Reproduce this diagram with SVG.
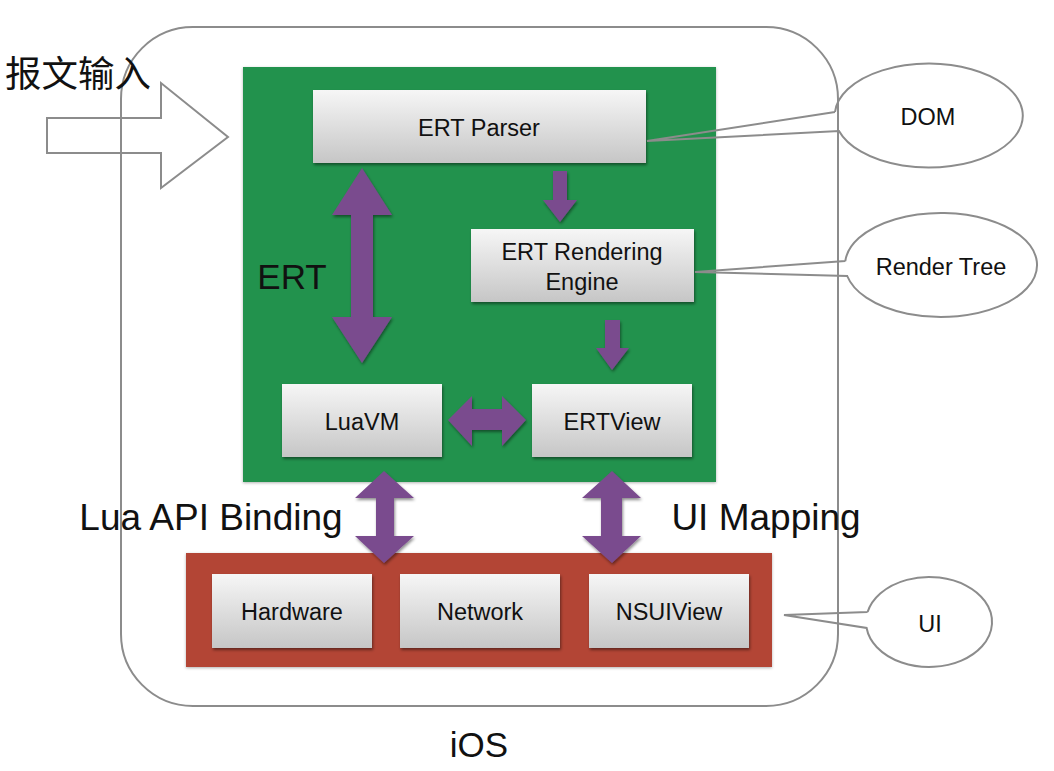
<svg xmlns="http://www.w3.org/2000/svg" width="1054" height="771" viewBox="0 0 1054 771">
<defs>
<linearGradient id="boxg" x1="0" y1="0" x2="0" y2="1">
<stop offset="0" stop-color="#f6f6f6"/>
<stop offset="1" stop-color="#c6c6c6"/>
</linearGradient>
<filter id="sh" x="-20%" y="-20%" width="140%" height="150%">
<feDropShadow dx="1" dy="2" stdDeviation="1.5" flood-color="#000" flood-opacity="0.45"/>
</filter>
<filter id="sh2" x="-10%" y="-10%" width="120%" height="120%">
<feDropShadow dx="0" dy="1" stdDeviation="1.5" flood-color="#000" flood-opacity="0.3"/>
</filter>
</defs>
<style>
.box{fill:url(#boxg);filter:url(#sh);}
.t{font-family:"Liberation Sans",Arial,sans-serif;fill:#111;text-anchor:middle;}
.bt{font-size:23.5px;}
.pa{fill:#7a4b8e;filter:url(#sh);}
.ln{fill:none;stroke:#8c8c8c;stroke-width:2;}
</style>
<rect width="1054" height="771" fill="#ffffff"/>
<g id="ios">
<rect class="ln" x="121" y="27" width="717" height="679" rx="72" ry="72"/>
<text class="t" x="479" y="757" font-size="35">iOS</text>
</g>
<g id="input">
<polygon class="ln" points="47,118 161,118 161,83 228,137 161,188 161,153 47,153"/>
<text x="5" y="87" font-family="'Noto Sans CJK SC',sans-serif" font-size="36.5" fill="#111">报文输入</text>
</g>
<g id="ert-layer">
<rect x="243" y="67" width="473" height="415" fill="#21924d" filter="url(#sh2)"/>
<text class="t" x="292" y="289" font-size="35">ERT</text>
</g>
<g id="platform-layer">
<rect x="186" y="553" width="586" height="114" fill="#b34436" filter="url(#sh2)"/>
</g>
<g id="parser">
<rect class="box" x="313" y="90" width="333" height="73"/>
<text class="t bt" x="479" y="136">ERT Parser</text>
</g>
<g id="rendering">
<rect class="box" x="471" y="229" width="223" height="73"/>
<text class="t bt" x="582" y="260">ERT Rendering</text>
<text class="t bt" x="582" y="290">Engine</text>
</g>
<g id="luavm">
<rect class="box" x="282" y="384" width="160" height="73"/>
<text class="t bt" x="362" y="430">LuaVM</text>
</g>
<g id="ertview">
<rect class="box" x="532" y="384" width="160" height="73"/>
<text class="t bt" x="612" y="430">ERTView</text>
</g>
<g id="hardware">
<rect class="box" x="212" y="574" width="160" height="74"/>
<text class="t bt" x="292" y="620">Hardware</text>
</g>
<g id="network">
<rect class="box" x="400" y="574" width="160" height="74"/>
<text class="t bt" x="480" y="620">Network</text>
</g>
<g id="nsuiview">
<rect class="box" x="589" y="574" width="160" height="74"/>
<text class="t bt" x="669" y="620">NSUIView</text>
</g>
<g id="dom">
<path class="ln" d="M835,112 L647,141 L839,131 A94,52 0 1 0 835,112"/>
<text class="t bt" x="928" y="125">DOM</text>
</g>
<g id="render-tree">
<path class="ln" d="M845.3,261 L695,272 L847.2,276 A96,52 0 1 0 845.3,261"/>
<text class="t bt" x="941" y="275">Render Tree</text>
</g>
<g id="ui">
<path class="ln" d="M867.6,612 L784,615 L866.6,628 A63,45 0 1 0 867.6,612"/>
<text class="t bt" x="930" y="632">UI</text>
</g>
<g id="connectors">
<polygon class="pa" points="362,168 392,215 373,215 373,317 392,317 362,363 332,317 351,317 351,215 332,215"/>
<polygon class="pa" points="553,171 567,171 567,200 577,200 560,222 543,200 553,200"/>
<polygon class="pa" points="605,320 620,320 620,348 629,348 612,370 596,348 605,348"/>
<polygon class="pa" points="448,420 472,396 472,409 502,409 502,396 526,420 502,446 502,430 472,430 472,446"/>
<polygon class="pa" points="384,471 414,498 394,498 394,536 414,536 384,563 355,536 376,536 376,498 355,498"/>
<polygon class="pa" points="612,471 641,498 622,498 622,536 641,536 612,563 582,536 601,536 601,498 582,498"/>
<text class="t" x="211" y="530" font-size="37">Lua API Binding</text>
<text class="t" x="766" y="530" font-size="37">UI Mapping</text>
</g>
</svg>
